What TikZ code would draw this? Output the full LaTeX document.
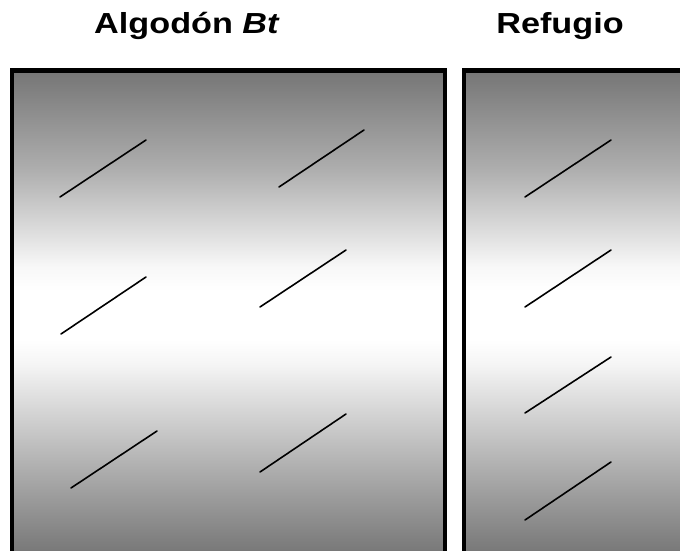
\documentclass[tikz,border=0pt]{standalone}
\usepackage{fontspec}
\setmainfont{Liberation Sans}
\definecolor{gdark}{gray}{0.45}
\definecolor{gtop}{gray}{0.46}
\definecolor{gb1}{gray}{0.70}
\definecolor{gb2}{gray}{0.96}
\definecolor{gt2}{gray}{0.97}
\definecolor{gt1}{gray}{0.68}
\pgfdeclareverticalshading{gshade}{100bp}{color(0bp)=(gdark); color(25bp)=(gdark); color(35bp)=(gb1); color(45bp)=(gb2); color(47.5bp)=(white); color(52.5bp)=(white); color(55bp)=(gt2); color(65bp)=(gt1); color(75bp)=(gtop); color(100bp)=(gtop)}
\tikzset{
  panel/.style={shading=gshade},
  frame/.style={draw=black, line width=4.6pt},
  stroke/.style={draw=black, line width=1.6pt, line cap=round},
  title/.style={font=\fontsize{29}{31}\selectfont\bfseries, anchor=base, xscale=1.18, inner sep=0pt}
}
\begin{document}
\begin{tikzpicture}[x=1pt, y=-1pt]
\useasboundingbox (0,0) rectangle (680,550);
\clip (0,0) rectangle (680,550);
\fill[white] (0,0) rectangle (680,550);
% panels
\path[panel] (12,70.5) rectangle (445,560);
\path[frame] (12,70.5) rectangle (445,560);
\path[panel] (464,70.5) rectangle (720,560);
\path[frame] (464,70.5) rectangle (720,560);
% titles
\node[title] (t1) at (187,33) {Algodón \textit{Bt}};
\node[title] (t2) at (560,33) {Refugio};
% strokes in left panel
\coordinate (a1) at (60,197);  \coordinate (b1) at (146,140);
\coordinate (a2) at (279,187); \coordinate (b2) at (364,130);
\coordinate (a3) at (61,334);  \coordinate (b3) at (146,277);
\coordinate (a4) at (260,307); \coordinate (b4) at (346,250);
\coordinate (a5) at (71,488);  \coordinate (b5) at (157,431);
\coordinate (a6) at (260,472); \coordinate (b6) at (346,414);
% strokes in right panel
\coordinate (a7) at (525,197);  \coordinate (b7) at (611,140);
\coordinate (a8) at (525,307);  \coordinate (b8) at (611,250);
\coordinate (a9) at (525,413);  \coordinate (b9) at (611,357);
\coordinate (a10) at (525,520); \coordinate (b10) at (611,462);
\foreach \i in {1,...,10} {\path[stroke] (a\i) -- (b\i);}
\end{tikzpicture}
\end{document}
